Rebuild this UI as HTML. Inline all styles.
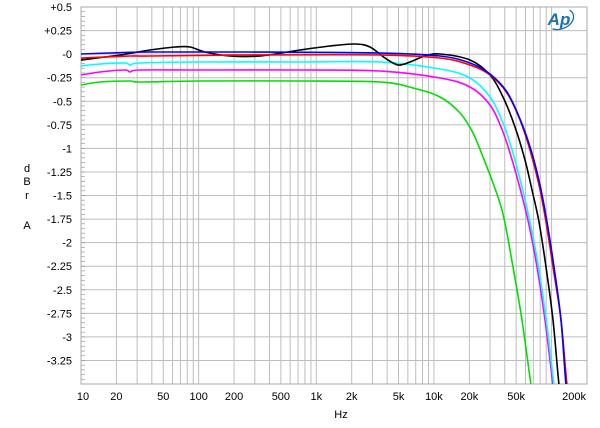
<!DOCTYPE html>
<html><head><meta charset="utf-8"><style>
html,body{margin:0;padding:0;background:#fff;}
svg{display:block;font-family:"Liberation Sans",Arial,sans-serif;}
</style></head><body>
<svg id="s" width="600" height="428" viewBox="0 0 600 428" xmlns="http://www.w3.org/2000/svg">
<rect width="600" height="428" fill="#fff"/>
<g id="grid"></g>
<g id="lbl" font-size="11" fill="#000"></g>
<text x="27" y="172" font-size="11" text-anchor="middle">d</text>
<text x="27" y="185" font-size="11" text-anchor="middle">B</text>
<text x="27" y="199" font-size="11" text-anchor="middle">r</text>
<text x="27" y="229" font-size="11" text-anchor="middle">A</text>
<text x="341" y="418" font-size="11" text-anchor="middle">Hz</text>
<g transform="translate(560,19)">
<ellipse cx="0" cy="0" rx="14" ry="10" fill="none" stroke="#1a6fb5" stroke-width="1.3" stroke-dasharray="30 40" transform="rotate(-20)"/>
<text x="-1" y="6" font-size="17" font-style="italic" font-weight="bold" fill="#1a6fb5" text-anchor="middle">Ap</text>
</g>
<defs><clipPath id="c"><rect x="81" y="7" width="506" height="377"/></clipPath></defs>
<g id="curves" clip-path="url(#c)" fill="none" stroke-width="1.6" stroke-linejoin="round"></g>
</svg>
<script>
var NS="http://www.w3.org/2000/svg";
function el(p,t,a,txt){var e=document.createElementNS(NS,t);for(var k in a)e.setAttribute(k,a[k]);if(txt!==undefined)e.textContent=txt;document.getElementById(p).appendChild(e);return e;}
var L=81,R=587,T=7,B=384;
function X(f){return L+(Math.log10(f)-1)/Math.log10(20000)*(R-L);}
function Y(v){return T+(0.5-v)*(B-T)/4;}
for(var d=10;d<=100000;d*=10){for(var m=1;m<=9;m++){var f=d*m;if(f>200000)break;var x=X(f);el("grid","line",{x1:x,x2:x,y1:T,y2:B,stroke:"#bdbdbd","stroke-width":1});}}
for(var i=0;i<=16;i++){var y=Y(0.5-i*0.25);el("grid","line",{x1:L,x2:R,y1:y,y2:y,stroke:"#bdbdbd","stroke-width":1});}
for(var i=0;i<=80;i++){var y=Y(0.5-i*0.05);el("grid","line",{x1:L,x2:L+4,y1:y,y2:y,stroke:"#999","stroke-width":0.7});}
el("grid","rect",{x:L,y:T,width:R-L,height:B-T,fill:"none",stroke:"#aaa","stroke-width":1});
var yl=["+0.5","+0.25","-0","-0.25","-0.5","-0.75","-1","-1.25","-1.5","-1.75","-2","-2.25","-2.5","-2.75","-3","-3.25"];
for(var i=0;i<yl.length;i++){el("lbl","text",{x:72,y:Y(0.5-i*0.25)+4,"text-anchor":"end"},yl[i]);}
var xl=[[10,"10"],[20,"20"],[50,"50"],[100,"100"],[200,"200"],[500,"500"],[1000,"1k"],[2000,"2k"],[5000,"5k"],[10000,"10k"],[20000,"20k"],[50000,"50k"]];
xl.forEach(function(a){el("lbl","text",{x:X(a[0])+(a[0]==10?2:0),y:400,"text-anchor":"middle"},a[1]);});
el("lbl","text",{x:586,y:400,"text-anchor":"end"},"200k");
function path(pts){var d="M"+pts[0][0]+","+pts[0][1];for(var i=0;i<pts.length-1;i++){var p0=pts[i-1]||pts[i],p1=pts[i],p2=pts[i+1],p3=pts[i+2]||p2;
d+=" C"+(p1[0]+(p2[0]-p0[0])/6)+","+(p1[1]+(p2[1]-p0[1])/6)+" "+(p2[0]-(p3[0]-p1[0])/6)+","+(p2[1]-(p3[1]-p1[1])/6)+" "+p2[0]+","+p2[1];}return d;}
var C={
"#00e000":[[81,85],[100,82],[130,81],[140,82],[200,81],[300,81],[380,82],[413,88],[440,97],[460,113],[473,133],[483,157],[493,183],[503,214],[513,267],[522,320],[531,385],[537,425]],
"#ff00ff":[[81,75],[100,72],[125,70],[130,72],[140,70],[200,70],[300,70],[380,71],[440,78],[470,87],[490,105],[503,132],[513,163],[521,192],[529,225],[537,267],[545,320],[553,385],[558,425]],
"#00ffff":[[81,66],[100,64],[125,63],[130,65],[140,63],[200,62],[300,62],[380,62],[440,69],[470,78],[490,97],[503,123],[513,153],[522,187],[530,222],[538,264],[546,318],[554,385],[559,425]],
"#000000":[[81,60],[120,55],[150,50],[175,47],[190,47],[205,52],[230,56],[260,56],[300,50],[330,46],[355,44],[370,47],[385,58],[398,65],[410,62],[425,56],[440,54],[470,60],[490,75],[503,97],[515,127],[525,160],[532,190],[539,222],[546,267],[553,320],[559,385],[564,425]],
"#ff0000":[[81,58],[130,56],[150,56],[250,55],[380,55],[440,58],[470,65],[490,75],[507,93],[520,120],[530,150],[539,185],[546,222],[553,267],[561,320],[567,385],[572,425]],
"#0000ff":[[81,54],[110,53],[150,52],[250,52],[380,53],[440,56],[470,63],[490,74],[507,92],[520,119],[531,150],[540,185],[547,222],[554,267],[561,320],[566,385],[571,425]]
};
["#00e000","#ff00ff","#00ffff","#000000","#ff0000","#0000ff"].forEach(function(k){el("curves","path",{d:path(C[k]),stroke:k});});
</script>
</body></html>
